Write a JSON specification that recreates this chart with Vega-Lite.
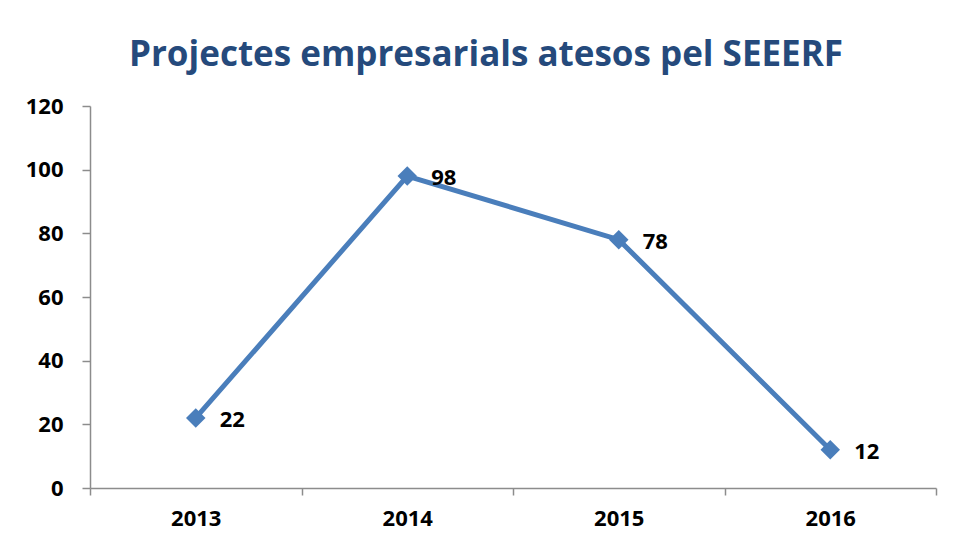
{
  "$schema": "https://vega.github.io/schema/vega-lite/v6.json",
  "autosize": "none",
  "width": 846,
  "height": 382,
  "padding": {"left": 90, "top": 106, "right": 17, "bottom": 59},
  "background": "white",
  "title": {
    "text": "Projectes empresarials atesos pel SEEERF",
    "font": "Open Sans",
    "fontSize": 35,
    "fontWeight": "bold",
    "color": "#254a7c",
    "anchor": "middle",
    "baseline": "alphabetic",
    "offset": 36,
    "dx": -27,
    "dy": 42
  },
  "data": {"values": [
    {"year": 2013, "value": 22},
    {"year": 2014, "value": 98},
    {"year": 2015, "value": 78},
    {"year": 2016, "value": 12}
  ]},
  "encoding": {
    "x": {"field": "year", "type": "quantitative", "scale": {"domain": [2012.5, 2016.5], "nice": false, "zero": false}},
    "y": {"field": "value", "type": "quantitative", "scale": {"domain": [0, 120], "nice": false}}
  },
  "layer": [
    {
      "mark": {"type": "line", "color": "#4a7ebb", "strokeWidth": 5, "point": {"shape": "diamond", "size": 380, "filled": true, "color": "#4a7ebb", "opacity": 1}},
      "encoding": {
        "x": {"field": "year", "type": "quantitative", "title": null,
          "axis": {"values": [2013, 2014, 2015, 2016], "format": "d", "ticks": false, "domain": true, "domainColor": "#8c8c8c", "domainWidth": 1.5, "labelFont": "Open Sans", "labelFontSize": 22, "labelFontWeight": "bold", "labelColor": "#000000", "labelPadding": 20, "grid": false, "orient": "bottom"}},
        "y": {"field": "value", "type": "quantitative", "title": null,
          "axis": {"values": [0, 20, 40, 60, 80, 100, 120], "tickSize": 8, "tickColor": "#8c8c8c", "tickWidth": 1.5, "domainColor": "#8c8c8c", "domainWidth": 1.5, "labelFont": "Open Sans", "labelFontSize": 22, "labelFontWeight": "bold", "labelColor": "#000000", "labelPadding": 19, "grid": false}}
      }
    },
    {
      "mark": {"type": "text", "align": "left", "baseline": "middle", "dx": 24, "dy": 2, "font": "Open Sans", "fontSize": 22, "fontWeight": "bold", "color": "#000000"},
      "encoding": {
        "text": {"field": "value", "type": "quantitative"},
        "x": {"field": "year", "type": "quantitative", "title": null,
          "axis": {"values": [2012.5, 2013.5, 2014.5, 2015.5, 2016.5], "labels": false, "ticks": true, "tickSize": 7, "tickColor": "#8c8c8c", "tickWidth": 1.5, "domain": false, "grid": false, "orient": "bottom"}}
      }
    }
  ],
  "resolve": {"axis": {"x": "independent"}},
  "config": {"view": {"stroke": null}}
}
